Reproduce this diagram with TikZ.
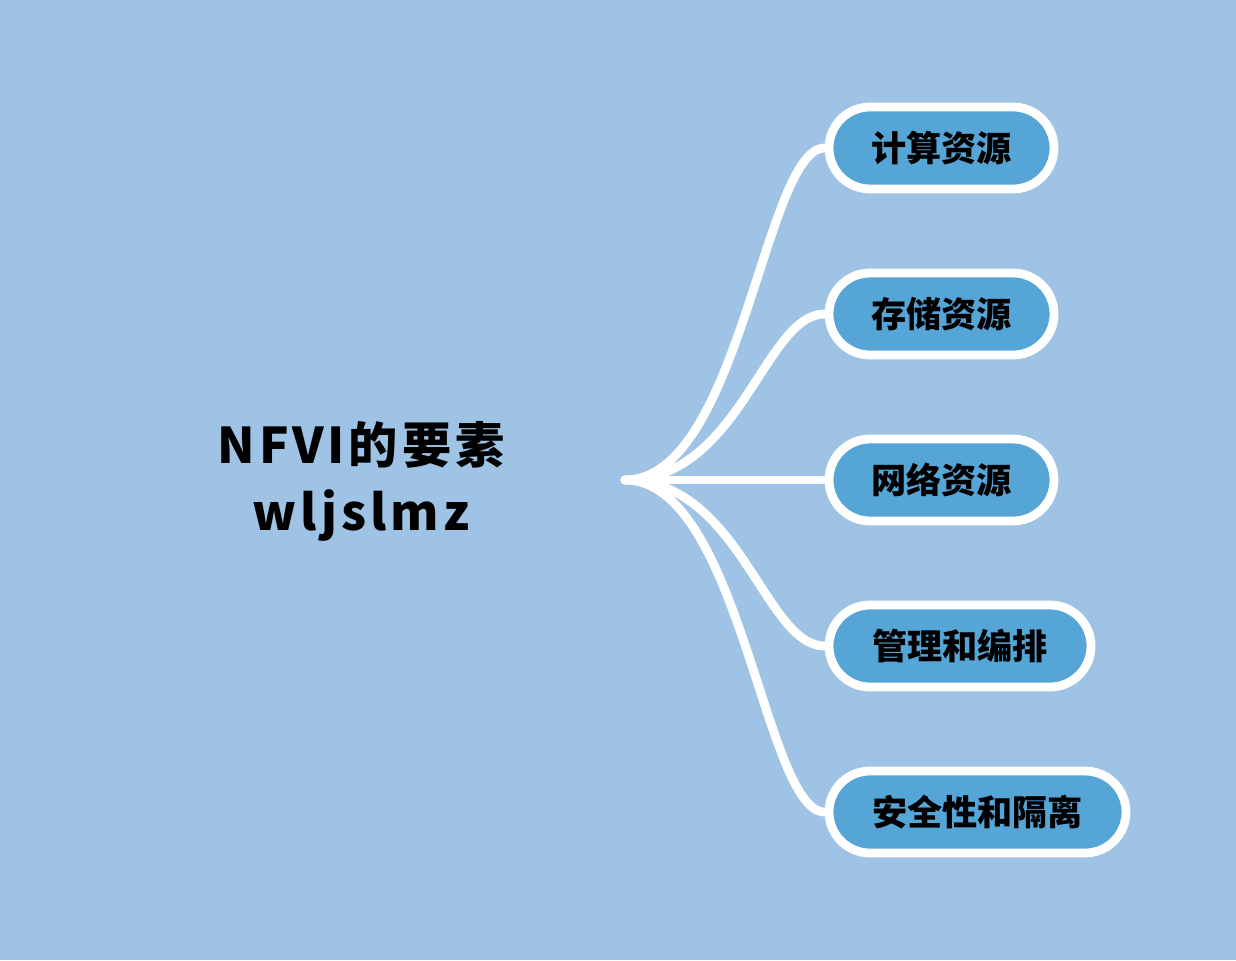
\documentclass[tikz,border=0pt]{standalone}
\usepackage{fontspec}
\setmainfont{Noto Sans CJK SC}
\newfontfamily\titlefont[LetterSpace=8]{Noto Sans CJK SC}
\usepackage{tikz}
\usetikzlibrary{positioning}
\definecolor{bgblue}{HTML}{9EC3E4}
\definecolor{leafblue}{HTML}{55A5D7}

\begin{document}
\begin{tikzpicture}[
  leaf/.style={draw=white, line width=5pt, fill=leafblue, rounded corners=0.82cm,
    minimum height=1.64cm, align=center, text=black, font=\fontsize{20pt}{24pt}\selectfont\bfseries},
  branch/.style={white, line width=5pt, line cap=round}
]
  \fill[bgblue] (0,0) rectangle (24.72,-19.2);

  \node[align=center, font=\titlefont\fontsize{28pt}{38pt}\selectfont\bfseries] (title) at (7.22,-9.62) {NFVI的要素\\wljslmz};
  \coordinate (hub) at (12.5,-9.6);

  \node[leaf, minimum width=4.5cm] (compute) at (18.83,-2.96) {计算资源};
  \node[leaf, minimum width=4.5cm] (storage) at (18.83,-6.28) {存储资源};
  \node[leaf, minimum width=4.5cm] (network) at (18.83,-9.6) {网络资源};
  \node[leaf, minimum width=5.24cm] (mano) at (19.2,-12.92) {管理和编排};
  \node[leaf, minimum width=5.94cm] (security) at (19.55,-16.24) {安全性和隔离};

  \draw[branch] (hub) .. controls +(2.3,0) and +(-1.2,0) .. (compute.west);
  \draw[branch] (hub) .. controls +(2.3,0) and +(-1.2,0) .. (storage.west);
  \draw[branch] (hub) -- (network.west);
  \draw[branch] (hub) .. controls +(2.3,0) and +(-1.2,0) .. (mano.west);
  \draw[branch] (hub) .. controls +(2.3,0) and +(-1.2,0) .. (security.west);
\end{tikzpicture}
\end{document}
